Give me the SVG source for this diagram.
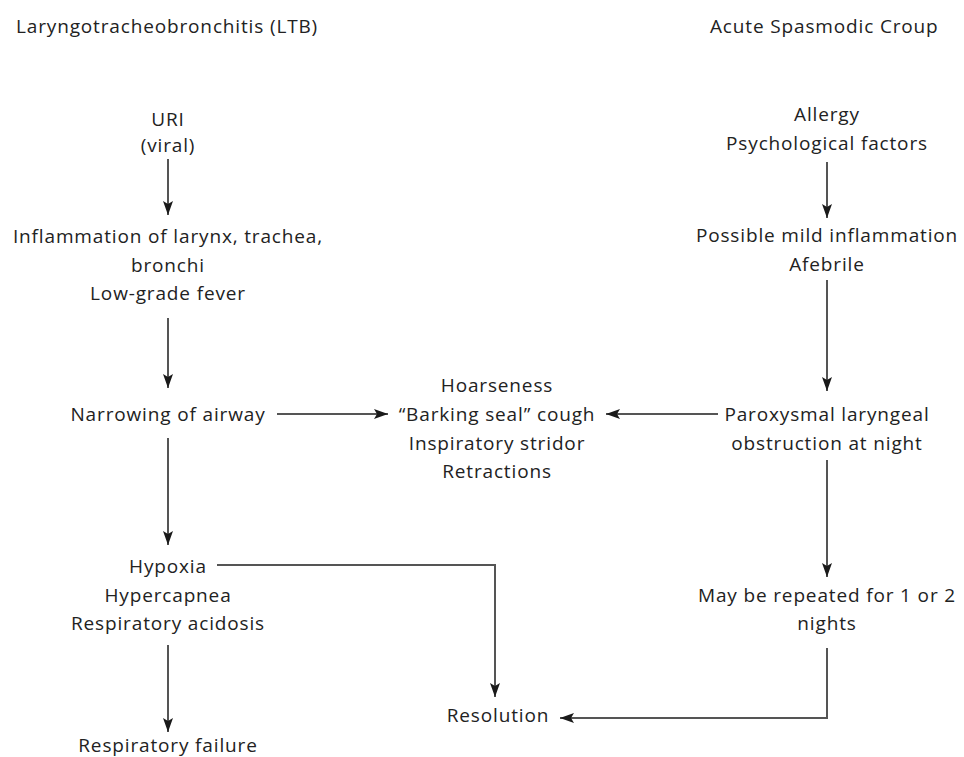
<svg xmlns="http://www.w3.org/2000/svg" width="964" height="757" viewBox="0 0 964 757">
<defs>
<marker id="ah" viewBox="0 0 14 10" refX="14" refY="5" markerWidth="14" markerHeight="10" markerUnits="userSpaceOnUse" orient="auto">
<path d="M0,0 L14,5 L0,10 L3,5 Z" fill="#1a1a1a"/>
</marker>
</defs>
<style>
text{font-family:"Open Sans","Noto Sans","Liberation Sans",sans-serif;font-size:19px;letter-spacing:0.85px;fill:#222;text-anchor:middle}
.t{text-anchor:start}
.c{fill:none;stroke:#555;stroke-width:2}
</style>
<rect width="964" height="757" fill="#fff"/>
<g id="titles">
<text class="t" x="16" y="33">Laryngotracheobronchitis (LTB)</text>
<text class="t" x="710" y="33">Acute Spasmodic Croup</text>
</g>
<g id="uri"><text x="168" y="126">URI</text><text x="168" y="152">(viral)</text></g>
<g id="inflam"><text x="168" y="243">Inflammation of larynx, trachea,</text><text x="168" y="272">bronchi</text><text x="168" y="300">Low-grade fever</text></g>
<g id="narrow"><text x="168" y="421">Narrowing of airway</text></g>
<g id="hypoxia"><text x="168" y="573">Hypoxia</text><text x="168" y="602">Hypercapnea</text><text x="168" y="630">Respiratory acidosis</text></g>
<g id="failure"><text x="168" y="752">Respiratory failure</text></g>
<g id="symptoms"><text x="497" y="392">Hoarseness</text><text x="497" y="421">“Barking seal” cough</text><text x="497" y="450">Inspiratory stridor</text><text x="497" y="478">Retractions</text></g>
<g id="resolution"><text x="498" y="722">Resolution</text></g>
<g id="allergy"><text x="827" y="121">Allergy</text><text x="827" y="150">Psychological factors</text></g>
<g id="mild"><text x="827" y="242">Possible mild inflammation</text><text x="827" y="271">Afebrile</text></g>
<g id="parox"><text x="827" y="421">Paroxysmal laryngeal</text><text x="827" y="450">obstruction at night</text></g>
<g id="repeat"><text x="827" y="602">May be repeated for 1 or 2</text><text x="827" y="630">nights</text></g>
<g id="connectors">
<path class="c" d="M168,159 V215" marker-end="url(#ah)"/>
<path class="c" d="M168,318 V388" marker-end="url(#ah)"/>
<path class="c" d="M168,438 V545" marker-end="url(#ah)"/>
<path class="c" d="M168,645 V732" marker-end="url(#ah)"/>
<path class="c" d="M277,414 H388" marker-end="url(#ah)"/>
<path class="c" d="M718,414 H606" marker-end="url(#ah)"/>
<path class="c" d="M217,565 H495 V697" marker-end="url(#ah)"/>
<path class="c" d="M827,162 V218" marker-end="url(#ah)"/>
<path class="c" d="M827,280 V391" marker-end="url(#ah)"/>
<path class="c" d="M827,460 V577" marker-end="url(#ah)"/>
<path class="c" d="M827,648 V718 H560" marker-end="url(#ah)"/>
</g>
</svg>
